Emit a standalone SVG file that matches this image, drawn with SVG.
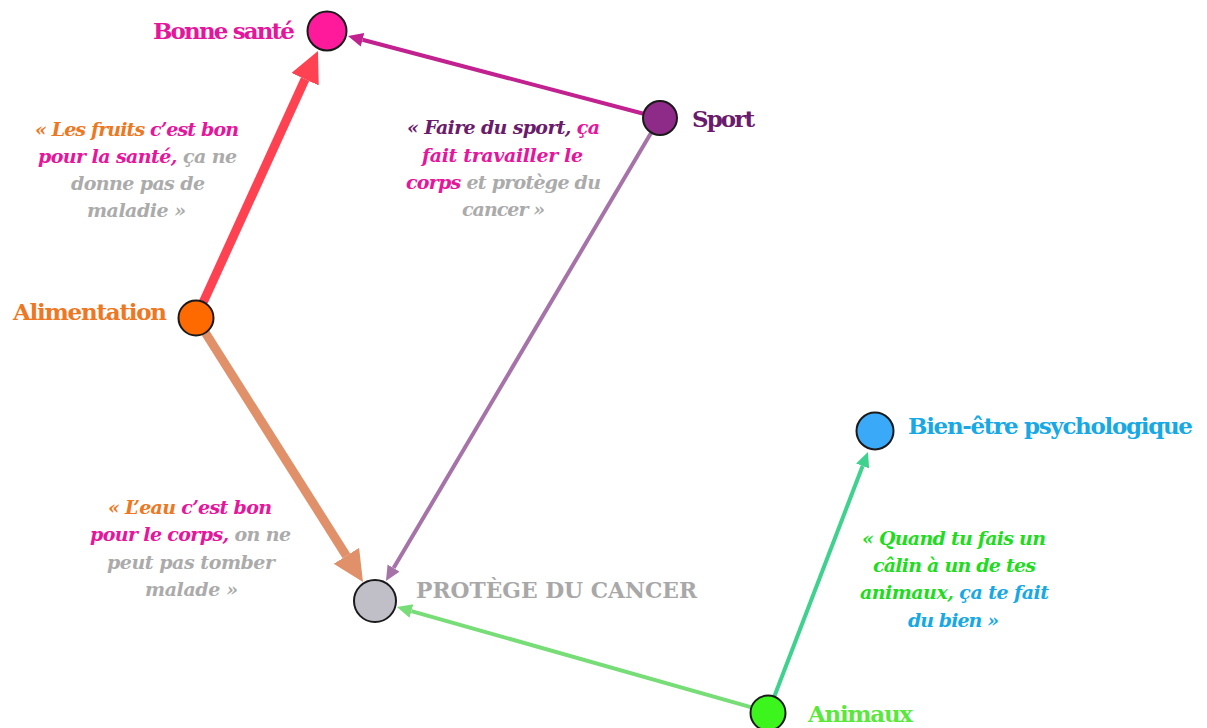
<svg xmlns="http://www.w3.org/2000/svg" width="1207" height="728" viewBox="0 0 1207 728">
<style>
.node{stroke:#1a1a1a;stroke-width:2}
.lbl{font-family:"DejaVu Serif","Liberation Serif",serif;font-weight:bold;font-size:23px}
.q{font-family:"DejaVu Serif","Liberation Serif",serif;font-weight:bold;font-style:italic;font-size:19px}
.e{fill:none;stroke-linecap:butt}
.or{fill:#ef7722}.pk{fill:#e8159c}.gr{fill:#ababab}.pu{fill:#6b1b6c}.gn{fill:#1fdc1f}.bl{fill:#16a9e6}
</style>
<defs>
<marker id="hRed" markerUnits="userSpaceOnUse" markerWidth="32" markerHeight="32" refX="0" refY="15" orient="auto"><path d="M0,0 L31,15 L0,30 Z" fill="#ff4252"/></marker>
<marker id="hTan" markerUnits="userSpaceOnUse" markerWidth="32" markerHeight="32" refX="0" refY="15" orient="auto"><path d="M0,0 L31,15 L0,30 Z" fill="#e0916a"/></marker>
<marker id="hMag" markerUnits="userSpaceOnUse" markerWidth="16" markerHeight="16" refX="0" refY="7" orient="auto"><path d="M0,0 L15,7 L0,14 Z" fill="#c1228f"/></marker>
<marker id="hPur" markerUnits="userSpaceOnUse" markerWidth="16" markerHeight="16" refX="0" refY="7" orient="auto"><path d="M0,0 L15,7 L0,14 Z" fill="#a673a9"/></marker>
<marker id="hLg" markerUnits="userSpaceOnUse" markerWidth="16" markerHeight="16" refX="0" refY="7" orient="auto"><path d="M0,0 L15,7 L0,14 Z" fill="#77dd77"/></marker>
<marker id="hGn" markerUnits="userSpaceOnUse" markerWidth="16" markerHeight="16" refX="0" refY="7" orient="auto"><path d="M0,0 L15,7 L0,14 Z" fill="#3fd18e"/></marker>
</defs>
<rect width="1207" height="728" fill="#ffffff"/>
<g id="connectors">
<line class="e" x1="203.5" y1="301.6" x2="305.1" y2="79.2" stroke="#ff4252" stroke-width="9" marker-end="url(#hRed)"/>
<line class="e" x1="205.6" y1="333.2" x2="346.4" y2="555.8" stroke="#e0916a" stroke-width="9" marker-end="url(#hTan)"/>
<line class="e" x1="643.6" y1="113.7" x2="362.5" y2="39.8" stroke="#c1228f" stroke-width="4" marker-end="url(#hMag)"/>
<line class="e" x1="651.3" y1="132.6" x2="393.6" y2="568.1" stroke="#a673a9" stroke-width="4" marker-end="url(#hPur)"/>
<line class="e" x1="750.7" y1="707.1" x2="411.4" y2="611.1" stroke="#77dd77" stroke-width="4" marker-end="url(#hLg)"/>
<line class="e" x1="774.4" y1="696.2" x2="862.6" y2="466" stroke="#3fd18e" stroke-width="4" marker-end="url(#hGn)"/>
</g>
<g id="bonne-sante">
<circle class="node" cx="327" cy="31" r="19.5" fill="#ff1a9c"/>
<text class="lbl" x="153" y="38.5" textLength="142" lengthAdjust="spacing" fill="#e6169c">Bonne santé</text>
</g>
<g id="sport">
<circle class="node" cx="660" cy="118" r="17" fill="#8e2a87"/>
<text class="lbl" x="692" y="127" textLength="63" lengthAdjust="spacing" fill="#6b1b6c">Sport</text>
</g>
<g id="alimentation">
<circle class="node" cx="196" cy="318" r="17.5" fill="#ff6a00"/>
<text class="lbl" x="13" y="319.5" textLength="154" lengthAdjust="spacing" fill="#ef7722">Alimentation</text>
</g>
<g id="protege">
<circle class="node" cx="375" cy="601" r="21" fill="#c0bfc8"/>
<text class="lbl" x="416" y="598" font-size="28" textLength="281" lengthAdjust="spacingAndGlyphs" fill="#a8a8a8">PROTÈGE DU CANCER</text>
</g>
<g id="bien-etre">
<circle class="node" cx="875" cy="431" r="18.5" fill="#3aa9f8"/>
<text class="lbl" x="908" y="433.5" textLength="285" lengthAdjust="spacing" fill="#16a9e6">Bien-être psychologique</text>
</g>
<g id="animaux">
<circle class="node" cx="768" cy="713" r="17.5" fill="#3cf51c"/>
<text class="lbl" x="808" y="722" textLength="105" lengthAdjust="spacing" fill="#5ae83c">Animaux</text>
</g>
<g id="quote-fruits">
<text class="q" x="35" y="136" textLength="204" lengthAdjust="spacing"><tspan class="or">« Les fruits </tspan><tspan class="pk">c’est bon</tspan></text>
<text class="q" x="38" y="163" textLength="199" lengthAdjust="spacing"><tspan class="pk">pour la santé, </tspan><tspan class="gr">ça ne</tspan></text>
<text class="q" x="71" y="190" textLength="134" lengthAdjust="spacing" fill="#ababab">donne pas de</text>
<text class="q" x="87" y="217" textLength="99" lengthAdjust="spacing" fill="#ababab">maladie »</text>
</g>
<g id="quote-sport">
<text class="q" x="407" y="134" textLength="193" lengthAdjust="spacing"><tspan class="pu">« Faire du sport, </tspan><tspan class="pk">ça</tspan></text>
<text class="q" x="422" y="161.5" textLength="161" lengthAdjust="spacing" fill="#e8159c">fait travailler le</text>
<text class="q" x="406" y="188.5" textLength="195" lengthAdjust="spacing"><tspan class="pk">corps </tspan><tspan class="gr">et protège du</tspan></text>
<text class="q" x="462" y="216" textLength="83" lengthAdjust="spacing" fill="#ababab">cancer »</text>
</g>
<g id="quote-eau">
<text class="q" x="108" y="514" textLength="164" lengthAdjust="spacing"><tspan class="or">« L’eau </tspan><tspan class="pk">c’est bon</tspan></text>
<text class="q" x="90" y="541" textLength="201" lengthAdjust="spacing"><tspan class="pk">pour le corps, </tspan><tspan class="gr">on ne</tspan></text>
<text class="q" x="107" y="569" textLength="168" lengthAdjust="spacing" fill="#ababab">peut pas tomber</text>
<text class="q" x="145" y="596" textLength="93" lengthAdjust="spacing" fill="#ababab">malade »</text>
</g>
<g id="quote-animaux">
<text class="q" x="862" y="545" textLength="184" lengthAdjust="spacing" fill="#1fdc1f">« Quand tu fais un</text>
<text class="q" x="873" y="572" textLength="163" lengthAdjust="spacing" fill="#1fdc1f">câlin à un de tes</text>
<text class="q" x="860" y="599" textLength="189" lengthAdjust="spacing"><tspan class="gn">animaux, </tspan><tspan class="bl">ça te fait</tspan></text>
<text class="q" x="908" y="627" textLength="91" lengthAdjust="spacing" fill="#16a9e6">du bien »</text>
</g>
</svg>
